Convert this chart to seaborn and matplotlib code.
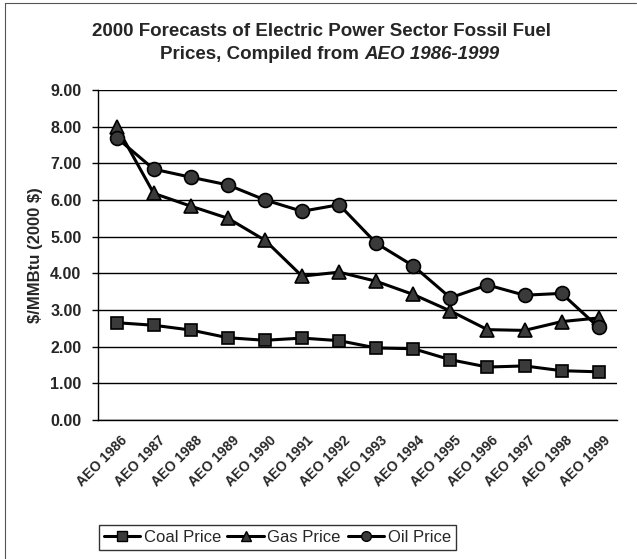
import pandas as pd
import matplotlib
matplotlib.use("Agg")
import matplotlib.pyplot as plt
from matplotlib.lines import Line2D
import matplotlib.transforms as mtrans
import seaborn as sns

# data
editions = ['AEO 1986', 'AEO 1987', 'AEO 1988', 'AEO 1989', 'AEO 1990', 'AEO 1991', 'AEO 1992',
            'AEO 1993', 'AEO 1994', 'AEO 1995', 'AEO 1996', 'AEO 1997', 'AEO 1998', 'AEO 1999']
coal_price = [2.65, 2.58, 2.45, 2.24, 2.17, 2.23, 2.16, 1.96, 1.94, 1.64, 1.44, 1.47, 1.34, 1.31]
gas_price = [8.00, 6.18, 5.83, 5.50, 4.90, 3.92, 4.03, 3.78, 3.42, 2.97, 2.46, 2.44, 2.68, 2.78]
oil_price = [7.70, 6.84, 6.62, 6.41, 6.00, 5.69, 5.87, 4.82, 4.20, 3.33, 3.68, 3.40, 3.45, 2.52]
yticks = [0, 1, 2, 3, 4, 5, 6, 7, 8, 9]
series_names = ['Coal Price', 'Gas Price', 'Oil Price']

df = pd.DataFrame({
    'edition': editions * 3,
    'price': coal_price + gas_price + oil_price,
    'series': [s for s in series_names for _ in editions],
})

sns.set_style('white')
plt.rcParams['font.family'] = ['Liberation Sans', 'DejaVu Sans']
plt.rcParams['text.parse_math'] = False

fig = plt.figure(figsize=(6.37, 5.59), dpi=100)
ax = fig.add_axes([0.154, 0.249, 0.815, 0.590])

markers = {'Coal Price': 's', 'Gas Price': '^', 'Oil Price': 'o'}
sizes = {'Coal Price': 9, 'Gas Price': 10, 'Oil Price': 10}
for name in series_names:
    sns.lineplot(data=df[df['series'] == name], x='edition', y='price', ax=ax,
                 color='black', linewidth=2.2, marker=markers[name],
                 markersize=sizes[name], markerfacecolor='#3a3a3a',
                 markeredgecolor='black', markeredgewidth=1.2, sort=False)

ax.set_xlim(-0.5, len(editions) - 0.5)
ax.set_ylim(0, 9)
ax.set_yticks(yticks)
ax.set_yticklabels([f'{v:.2f}' for v in yticks], fontsize=11.5, fontweight='bold')
ax.yaxis.grid(True, color='black', linewidth=1)
ax.set_axisbelow(True)

ax.set_xticks(range(len(editions)))
ax.set_xticklabels(editions, rotation=45, ha='right', rotation_mode='anchor',
                   fontsize=10, fontweight='bold')
ax.set_xticks([i - 0.5 for i in range(len(editions) + 1)], minor=True)
ax.tick_params(axis='x', which='major', length=0, pad=10)
ax.tick_params(axis='x', which='minor', length=4, width=1, color='black', direction='out')
ax.tick_params(axis='y', length=4, width=1, color='black', direction='out', left=True, pad=8)

for side in ['top', 'right']:
    ax.spines[side].set_visible(False)
for side in ['left', 'bottom']:
    ax.spines[side].set_color('black')
    ax.spines[side].set_linewidth(1)

ax.set_xlabel('')
ax.set_ylabel('$/MMBtu (2000 $)', fontsize=12, fontweight='bold', labelpad=5)

# title, second line partly italic
fig.text(0.505, 0.944, '2000 Forecasts of Electric Power Sector Fossil Fuel',
         ha='center', va='center', fontsize=13.5, fontweight='bold')
t1 = fig.text(0.5, 0.902, 'Prices, Compiled from ', ha='left', va='center',
              fontsize=13.5, fontweight='bold')
t2 = fig.text(0.5, 0.902, 'AEO 1986-1999', ha='left', va='center',
              fontsize=13.5, fontweight='bold', style='italic')
fig.canvas.draw()
r = fig.canvas.get_renderer()
w1 = t1.get_window_extent(r).width / fig.bbox.width
w2 = t2.get_window_extent(r).width / fig.bbox.width
x0 = 0.518 - (w1 + w2) / 2
t1.set_x(x0)
t2.set_x(x0 + w1)

# nudge the rotated category labels a little to the right
shift = mtrans.ScaledTranslation(4 / 100, 0, fig.dpi_scale_trans)
for tick in ax.xaxis.get_major_ticks():
    tick.label1.set_transform(tick.label1.get_transform() + shift)

handles = [Line2D([], [], color='black', linewidth=2.2, marker=markers[n],
                  markersize=7, markerfacecolor='#3a3a3a', markeredgecolor='black')
           for n in series_names]
leg = fig.legend(handles, series_names, loc='center', bbox_to_anchor=(0.435, 0.0385),
                 ncol=3, fontsize=12, frameon=True, fancybox=False, handlelength=2.2,
                 handletextpad=0.2, columnspacing=0.4, borderpad=0.3, borderaxespad=0)
leg.get_frame().set_edgecolor('black')
leg.get_frame().set_linewidth(1)

# outer chart border
border = dict(color='#555555', linewidth=0.8, transform=fig.transFigure)
fig.add_artist(Line2D([0.008, 0.008], [0, 0.995], **border))
fig.add_artist(Line2D([0.008, 0.998], [0.995, 0.995], **border))

fig.savefig('out.png', dpi=100)
